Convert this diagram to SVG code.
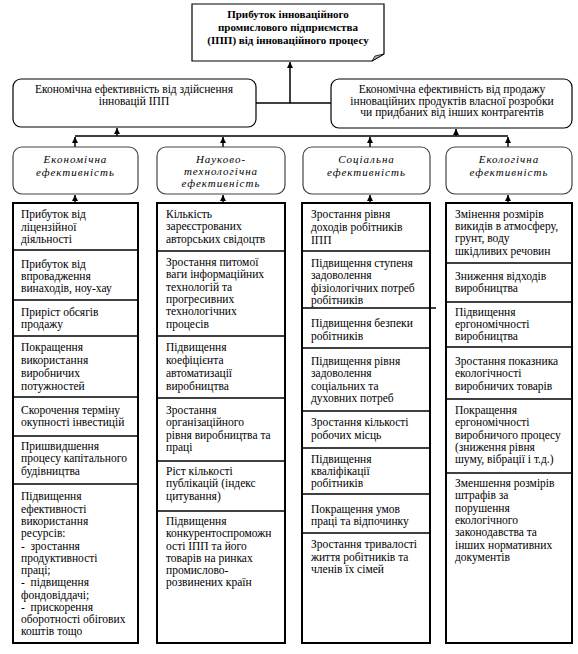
<svg xmlns="http://www.w3.org/2000/svg" width="578" height="654" viewBox="0 0 578 654" font-family="'Liberation Serif', 'DejaVu Serif', serif">
<style>
text{font-family:'Liberation Serif','DejaVu Serif',serif;fill:#000}
.t{font-size:11.5px}
.c{font-size:11.5px;text-anchor:middle}
.b{font-size:11px;font-weight:bold;text-anchor:middle}
.i{font-size:11px;font-style:italic;text-anchor:middle;letter-spacing:1px}
.mid{fill:#fff;stroke:#000;stroke-width:1.2}
.cat{fill:#fff;stroke:#444;stroke-width:1.2}
.list{fill:#fff;stroke:#000;stroke-width:2}
.div{stroke:#000;stroke-width:1.5}
.con{stroke:#000;stroke-width:1.5;fill:none}
</style>
<defs>
<marker id="ah" viewBox="0 0 10 10" refX="10" refY="5" markerWidth="6" markerHeight="6" markerUnits="userSpaceOnUse" orient="auto">
<path d="M0,0 L10,5 L0,10 Z" fill="#000"/>
</marker>
</defs>
<rect width="578" height="654" fill="#fff"/>

<g id="connectors">
<path class="con" d="M290,103 V62" marker-end="url(#ah)"/>
<path class="con" d="M256,103 H331"/>
<path class="con" d="M75,136 H508"/>
<path class="con" d="M117,136 V128" marker-end="url(#ah)"/>
<path class="con" d="M456,136 V129" marker-end="url(#ah)"/>
<path class="con" d="M75,147 V137" marker-end="url(#ah)"/>
<path class="con" d="M223,147 V137" marker-end="url(#ah)"/>
<path class="con" d="M370,147 V137" marker-end="url(#ah)"/>
<path class="con" d="M508,147 V137" marker-end="url(#ah)"/>
<path class="con" d="M75,203 V195" marker-end="url(#ah)"/>
<path class="con" d="M223,203 V195" marker-end="url(#ah)"/>
<path class="con" d="M370,203 V195" marker-end="url(#ah)"/>
<path class="con" d="M508,203 V195" marker-end="url(#ah)"/>
</g>

<g id="top">
<path d="M192,4 H384 V54 L372,61 H192 Z" fill="#fff" stroke="#000" stroke-width="1.2"/>
<path d="M372,61 L384,54 L375,56 Z" fill="#bbb" stroke="#000" stroke-width="0.8"/>
<text class="b" x="288" y="18">Прибуток інноваційного</text>
<text class="b" x="288" y="31">промислового підприємства</text>
<text class="b" x="288" y="44">(ІПП) від інноваційного процесу</text>
</g>

<g id="mid-left">
<rect class="mid" x="13" y="79" width="243" height="48" rx="8"/>
<text class="c" x="134" y="93">Економічна ефективність від здійснення</text>
<text class="c" x="134" y="104.5">інновацій ІПП</text>
</g>

<g id="mid-right">
<rect class="mid" x="331" y="79" width="241" height="49" rx="8"/>
<text class="c" x="452" y="93">Економічна ефективність від продажу</text>
<text class="c" x="452" y="104.5">інноваційних продуктів власної розробки</text>
<text class="c" x="452" y="116">чи придбаних від інших контрагентів</text>
</g>

<g id="cat-econ">
<rect class="cat" x="13" y="147" width="125" height="47" rx="9"/>
<text class="i" x="75.5" y="163">Економічна</text>
<text class="i" x="75.5" y="176">ефективність</text>
</g>
<g id="cat-sci">
<rect class="cat" x="157" y="147" width="128" height="47" rx="9"/>
<text class="i" x="221" y="163">Науково-</text>
<text class="i" x="221" y="175">технологічна</text>
<text class="i" x="221" y="187">ефективність</text>
</g>
<g id="cat-soc">
<rect class="cat" x="303" y="147" width="127" height="47" rx="9"/>
<text class="i" x="366.5" y="163">Соціальна</text>
<text class="i" x="366.5" y="176">ефективність</text>
</g>
<g id="cat-eco">
<rect class="cat" x="446" y="147" width="126" height="47" rx="9"/>
<text class="i" x="509" y="163">Екологічна</text>
<text class="i" x="509" y="176">ефективність</text>
</g>

<g id="list-econ">
<rect class="list" x="13" y="203" width="125" height="440"/>
<line class="div" x1="13" y1="250" x2="138" y2="250"/>
<line class="div" x1="13" y1="300" x2="138" y2="300"/>
<line class="div" x1="13" y1="336" x2="138" y2="336"/>
<line class="div" x1="13" y1="397" x2="138" y2="397"/>
<line class="div" x1="13" y1="436" x2="138" y2="436"/>
<line class="div" x1="13" y1="484" x2="138" y2="484"/>
<text class="t" x="21" y="218">Прибуток від</text>
<text class="t" x="21" y="231">ліцензійної</text>
<text class="t" x="21" y="243">діяльності</text>
<text class="t" x="21" y="268">Прибуток від</text>
<text class="t" x="21" y="280">впровадження</text>
<text class="t" x="21" y="292">винаходів, ноу-хау</text>
<text class="t" x="21" y="316">Приріст обсягів</text>
<text class="t" x="21" y="328">продажу</text>
<text class="t" x="21" y="351">Покращення</text>
<text class="t" x="21" y="364">використання</text>
<text class="t" x="21" y="377">виробничих</text>
<text class="t" x="21" y="390">потужностей</text>
<text class="t" x="21" y="414">Скорочення терміну</text>
<text class="t" x="21" y="426">окупності інвестицій</text>
<text class="t" x="21" y="450">Пришвидшення</text>
<text class="t" x="21" y="462">процесу капітального</text>
<text class="t" x="21" y="475">будівництва</text>
<text class="t" x="21" y="500">Підвищення</text>
<text class="t" x="21" y="513">ефективності</text>
<text class="t" x="21" y="525">використання</text>
<text class="t" x="21" y="537">ресурсів:</text>
<text class="t" x="21" y="550" xml:space="preserve">-  зростання</text>
<text class="t" x="21" y="562">продуктивності</text>
<text class="t" x="21" y="574">праці;</text>
<text class="t" x="21" y="586" xml:space="preserve">-  підвищення</text>
<text class="t" x="21" y="599">фондовіддачі;</text>
<text class="t" x="21" y="611" xml:space="preserve">-  прискорення</text>
<text class="t" x="21" y="623">оборотності обігових</text>
<text class="t" x="21" y="635">коштів тощо</text>
</g>

<g id="list-sci">
<rect class="list" x="157" y="203" width="128" height="440"/>
<line class="div" x1="157" y1="251" x2="285" y2="251"/>
<line class="div" x1="157" y1="336" x2="285" y2="336"/>
<line class="div" x1="157" y1="398" x2="285" y2="398"/>
<line class="div" x1="157" y1="461" x2="285" y2="461"/>
<line class="div" x1="157" y1="511" x2="285" y2="511"/>
<text class="t" x="166" y="218">Кількість</text>
<text class="t" x="166" y="230">зареєстрованих</text>
<text class="t" x="166" y="243">авторських свідоцтв</text>
<text class="t" x="166" y="266">Зростання питомої</text>
<text class="t" x="166" y="278">ваги інформаційних</text>
<text class="t" x="166" y="291">технологій та</text>
<text class="t" x="166" y="303">прогресивних</text>
<text class="t" x="166" y="315">технологічних</text>
<text class="t" x="166" y="328">процесів</text>
<text class="t" x="166" y="351">Підвищення</text>
<text class="t" x="166" y="364">коефіцієнта</text>
<text class="t" x="166" y="377">автоматизації</text>
<text class="t" x="166" y="390">виробництва</text>
<text class="t" x="166" y="414">Зростання</text>
<text class="t" x="166" y="426">організаційного</text>
<text class="t" x="166" y="439">рівня виробництва та</text>
<text class="t" x="166" y="451">праці</text>
<text class="t" x="166" y="475">Ріст кількості</text>
<text class="t" x="166" y="487">публікацій (індекс</text>
<text class="t" x="166" y="500">цитування)</text>
<text class="t" x="166" y="525">Підвищення</text>
<text class="t" x="166" y="537">конкурентоспроможн</text>
<text class="t" x="166" y="550">ості ІПП та його</text>
<text class="t" x="166" y="562">товарів на ринках</text>
<text class="t" x="166" y="574">промислово-</text>
<text class="t" x="166" y="586">розвинених країн</text>
</g>

<g id="list-soc">
<rect class="list" x="302" y="203" width="128" height="440"/>
<line class="div" x1="302" y1="251" x2="430" y2="251"/>
<line class="div" x1="302" y1="308" x2="436" y2="308"/>
<line class="div" x1="302" y1="348" x2="430" y2="348"/>
<line class="div" x1="302" y1="411" x2="430" y2="411"/>
<line class="div" x1="302" y1="448" x2="430" y2="448"/>
<line class="div" x1="302" y1="494" x2="430" y2="494"/>
<line class="div" x1="302" y1="533" x2="430" y2="533"/>
<text class="t" x="311" y="218">Зростання рівня</text>
<text class="t" x="311" y="231">доходів робітників</text>
<text class="t" x="311" y="244">ІПП</text>
<text class="t" x="311" y="267">Підвищення ступеня</text>
<text class="t" x="311" y="279">задоволення</text>
<text class="t" x="311" y="292">фізіологічних потреб</text>
<text class="t" x="311" y="304">робітників</text>
<text class="t" x="311" y="327">Підвищення безпеки</text>
<text class="t" x="311" y="340">робітників</text>
<text class="t" x="311" y="365">Підвищення рівня</text>
<text class="t" x="311" y="377">задоволення</text>
<text class="t" x="311" y="390">соціальних та</text>
<text class="t" x="311" y="402">духовних потреб</text>
<text class="t" x="311" y="426">Зростання кількості</text>
<text class="t" x="311" y="439">робочих місць</text>
<text class="t" x="311" y="463">Підвищення</text>
<text class="t" x="311" y="475">кваліфікації</text>
<text class="t" x="311" y="487">робітників</text>
<text class="t" x="311" y="513">Покращення умов</text>
<text class="t" x="311" y="525">праці та відпочинку</text>
<text class="t" x="311" y="548">Зростання тривалості</text>
<text class="t" x="311" y="561">життя робітників та</text>
<text class="t" x="311" y="573">членів їх сімей</text>
</g>

<g id="list-eco">
<rect class="list" x="446" y="203" width="126" height="440"/>
<line class="div" x1="446" y1="263" x2="572" y2="263"/>
<line class="div" x1="446" y1="302" x2="572" y2="302"/>
<line class="div" x1="446" y1="347" x2="572" y2="347"/>
<line class="div" x1="446" y1="399" x2="572" y2="399"/>
<line class="div" x1="446" y1="473" x2="572" y2="473"/>
<text class="t" x="455" y="218">Змінення розмірів</text>
<text class="t" x="455" y="230">викидів в атмосферу,</text>
<text class="t" x="455" y="242">грунт, воду</text>
<text class="t" x="455" y="255">шкідливих речовин</text>
<text class="t" x="455" y="280">Зниження відходів</text>
<text class="t" x="455" y="292">виробництва</text>
<text class="t" x="455" y="316">Підвищення</text>
<text class="t" x="455" y="328">ергономічності</text>
<text class="t" x="455" y="340">виробництва</text>
<text class="t" x="455" y="365">Зростання показника</text>
<text class="t" x="455" y="377">екологічності</text>
<text class="t" x="455" y="390">виробничих товарів</text>
<text class="t" x="455" y="414">Покращення</text>
<text class="t" x="455" y="426">ергономічності</text>
<text class="t" x="455" y="439">виробничого процесу</text>
<text class="t" x="455" y="451">(зниження рівня</text>
<text class="t" x="455" y="463">шуму, вібрації і т.д.)</text>
<text class="t" x="455" y="487">Зменшення розмірів</text>
<text class="t" x="455" y="499">штрафів за</text>
<text class="t" x="455" y="512">порушення</text>
<text class="t" x="455" y="524">екологічного</text>
<text class="t" x="455" y="536">законодавства та</text>
<text class="t" x="455" y="549">інших нормативних</text>
<text class="t" x="455" y="561">документів</text>
</g>
</svg>
